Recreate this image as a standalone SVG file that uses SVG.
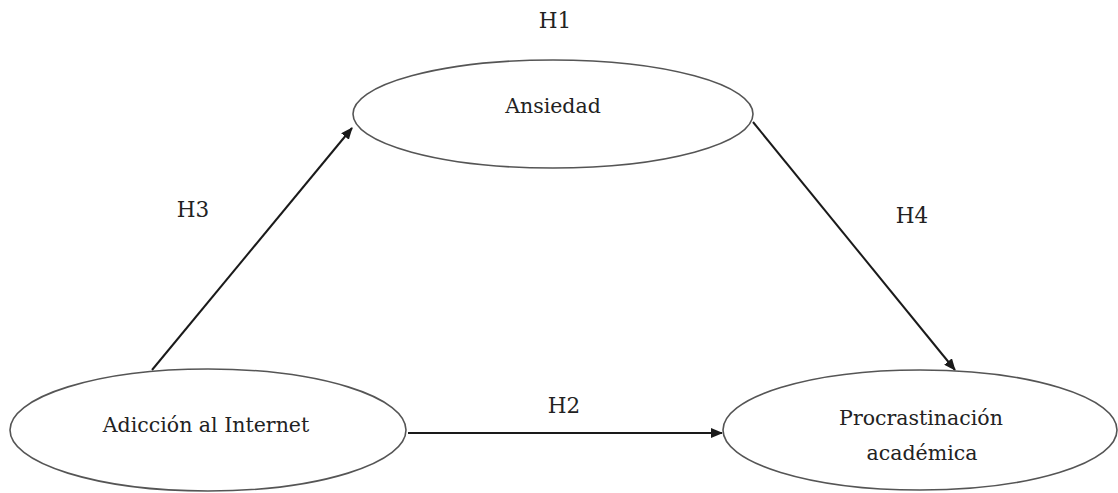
<svg xmlns="http://www.w3.org/2000/svg" width="1118" height="493" viewBox="0 0 1118 493">
<style>
.node ellipse{fill:#fff;stroke:#555;stroke-width:1.6}
text{font-family:'DejaVu Serif','Liberation Serif',serif;font-size:20.5px;fill:#222;text-anchor:middle}
.lbl{font-size:21.5px}
.edge{stroke:#1a1a1a;stroke-width:2;fill:none;marker-end:url(#ah)}
</style>
<defs>
<marker id="ah" viewBox="0 0 12 10" refX="11" refY="5" markerWidth="12" markerHeight="10" markerUnits="userSpaceOnUse" orient="auto">
<path d="M0,0 L12,5 L0,10 z" fill="#1a1a1a"/>
</marker>
</defs>
<rect width="1118" height="493" fill="#fff"/>
<g id="connectors">
<line class="edge" x1="152" y1="370" x2="352" y2="128"/>
<line class="edge" x1="753" y1="122" x2="955" y2="370"/>
<line class="edge" x1="408" y1="433" x2="722" y2="433"/>
</g>
<g id="labels">
<text class="lbl" x="555" y="28">H1</text>
<text class="lbl" x="193" y="217">H3</text>
<text class="lbl" x="912" y="223">H4</text>
<text class="lbl" x="564" y="413">H2</text>
</g>
<g id="ansiedad" class="node">
<ellipse cx="553" cy="114" rx="200" ry="54"/>
<text x="553" y="113">Ansiedad</text>
</g>
<g id="adiccion" class="node">
<ellipse cx="208" cy="430" rx="198" ry="61"/>
<text x="206" y="432">Adicción al Internet</text>
</g>
<g id="procrastinacion" class="node">
<ellipse cx="920" cy="430" rx="197" ry="60"/>
<text x="921" y="425">Procrastinación</text>
<text x="922" y="460">académica</text>
</g>
</svg>
